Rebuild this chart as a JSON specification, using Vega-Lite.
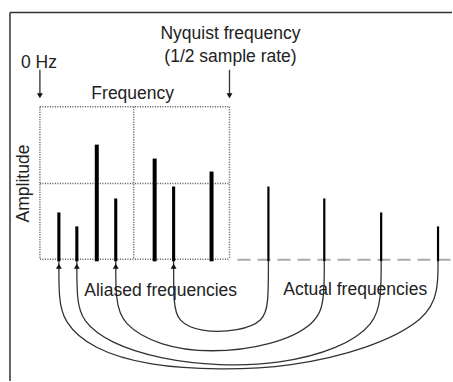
{
  "$schema": "https://vega.github.io/schema/vega-lite/v6.json",
  "width": 453,
  "height": 382,
  "padding": 0,
  "autosize": {"type": "fit", "contains": "padding"},
  "background": "white",
  "config": {"view": {"stroke": null}, "text": {"font": "Liberation Sans"}},
  "datasets": {
    "frame": [
      {"x": 10, "y": 12.5, "x2": 453, "y2": 12.5},
      {"x": 10, "y": 12.5, "x2": 10, "y2": 382}
    ],
    "grid": [
      {"x": 40, "y": 107, "x2": 230, "y2": 107},
      {"x": 40, "y": 260, "x2": 230, "y2": 260},
      {"x": 40, "y": 107, "x2": 40, "y2": 260},
      {"x": 230, "y": 107, "x2": 230, "y2": 260},
      {"x": 134, "y": 107, "x2": 134, "y2": 260},
      {"x": 40, "y": 184, "x2": 230, "y2": 184}
    ],
    "baseline": [{"x": 238, "x2": 453, "y": 260.5}],
    "bars": [
      {"f": 59, "top": 213, "kind": "alias"},
      {"f": 77, "top": 227, "kind": "alias"},
      {"f": 97, "top": 145, "kind": "inband"},
      {"f": 116, "top": 199, "kind": "alias"},
      {"f": 155, "top": 159, "kind": "inband"},
      {"f": 174, "top": 187, "kind": "alias"},
      {"f": 212, "top": 172, "kind": "inband"},
      {"f": 269, "top": 187, "kind": "actual"},
      {"f": 325, "top": 199, "kind": "actual"},
      {"f": 382, "top": 213, "kind": "actual"},
      {"f": 439, "top": 227, "kind": "actual"}
    ],
    "pointers": [
      {"x": 40, "y": 70, "y2": 96},
      {"x": 230, "y": 70, "y2": 96}
    ],
    "arcs": [
      {"arc": "A", "i": 0, "x": 174, "y": 262},
      {"arc": "A", "i": 1, "x": 174, "y": 262},
      {"arc": "A", "i": 2, "x": 174, "y": 305},
      {"arc": "A", "i": 3, "x": 178, "y": 322},
      {"arc": "A", "i": 4, "x": 200, "y": 333},
      {"arc": "A", "i": 5, "x": 240, "y": 332},
      {"arc": "A", "i": 6, "x": 264, "y": 322},
      {"arc": "A", "i": 7, "x": 269, "y": 305},
      {"arc": "A", "i": 8, "x": 269, "y": 262},
      {"arc": "A", "i": 9, "x": 269, "y": 262},
      {"arc": "B", "i": 0, "x": 116, "y": 262},
      {"arc": "B", "i": 1, "x": 116, "y": 262},
      {"arc": "B", "i": 2, "x": 116, "y": 300},
      {"arc": "B", "i": 3, "x": 122, "y": 325},
      {"arc": "B", "i": 4, "x": 160, "y": 347},
      {"arc": "B", "i": 5, "x": 210, "y": 354},
      {"arc": "B", "i": 6, "x": 272, "y": 347},
      {"arc": "B", "i": 7, "x": 318, "y": 325},
      {"arc": "B", "i": 8, "x": 325, "y": 300},
      {"arc": "B", "i": 9, "x": 325, "y": 262},
      {"arc": "B", "i": 10, "x": 325, "y": 262},
      {"arc": "C", "i": 0, "x": 77, "y": 262},
      {"arc": "C", "i": 1, "x": 77, "y": 262},
      {"arc": "C", "i": 2, "x": 77, "y": 300},
      {"arc": "C", "i": 3, "x": 82, "y": 322},
      {"arc": "C", "i": 4, "x": 110, "y": 344},
      {"arc": "C", "i": 5, "x": 160, "y": 360},
      {"arc": "C", "i": 6, "x": 220, "y": 367},
      {"arc": "C", "i": 7, "x": 280, "y": 365},
      {"arc": "C", "i": 8, "x": 340, "y": 350},
      {"arc": "C", "i": 9, "x": 376, "y": 325},
      {"arc": "C", "i": 10, "x": 382, "y": 298},
      {"arc": "C", "i": 11, "x": 382, "y": 262},
      {"arc": "C", "i": 12, "x": 382, "y": 262},
      {"arc": "D", "i": 0, "x": 59, "y": 262},
      {"arc": "D", "i": 1, "x": 59, "y": 262},
      {"arc": "D", "i": 2, "x": 59, "y": 298},
      {"arc": "D", "i": 3, "x": 63, "y": 322},
      {"arc": "D", "i": 4, "x": 92, "y": 350},
      {"arc": "D", "i": 5, "x": 150, "y": 367},
      {"arc": "D", "i": 6, "x": 220, "y": 371},
      {"arc": "D", "i": 7, "x": 290, "y": 368},
      {"arc": "D", "i": 8, "x": 370, "y": 350},
      {"arc": "D", "i": 9, "x": 428, "y": 320},
      {"arc": "D", "i": 10, "x": 439, "y": 292},
      {"arc": "D", "i": 11, "x": 439, "y": 262},
      {"arc": "D", "i": 12, "x": 439, "y": 262}
    ],
    "heads": [
      {"x": 59, "y": 267},
      {"x": 77, "y": 267},
      {"x": 116, "y": 267},
      {"x": 174, "y": 267}
    ],
    "labels": [
      {"t": "Nyquist frequency", "x": 231, "y": 34, "a": 0},
      {"t": "(1/2 sample rate)", "x": 231, "y": 57, "a": 0},
      {"t": "0 Hz", "x": 39, "y": 63, "a": 0},
      {"t": "Frequency", "x": 133, "y": 94, "a": 0},
      {"t": "Amplitude", "x": 24, "y": 184, "a": 270},
      {"t": "Aliased frequencies", "x": 161, "y": 292, "a": 0},
      {"t": "Actual frequencies", "x": 356, "y": 291, "a": 0}
    ]
  },
  "layer": [
    {
      "data": {"name": "frame"},
      "mark": {"type": "rule", "color": "#333", "strokeWidth": 1.5},
      "encoding": {
        "x": {"field": "x", "type": "quantitative", "scale": {"domain": [0, 453], "nice": false, "zero": false}, "axis": null},
        "y": {"field": "y", "type": "quantitative", "scale": {"domain": [0, 382], "reverse": true, "nice": false, "zero": false}, "axis": null},
        "x2": {"field": "x2"},
        "y2": {"field": "y2"}
      }
    },
    {
      "data": {"name": "grid"},
      "mark": {"type": "rule", "color": "#555", "strokeWidth": 1.5, "strokeDash": [1, 1.5]},
      "encoding": {
        "x": {"field": "x", "type": "quantitative"},
        "y": {"field": "y", "type": "quantitative"},
        "x2": {"field": "x2"},
        "y2": {"field": "y2"}
      }
    },
    {
      "data": {"name": "baseline"},
      "mark": {"type": "rule", "color": "#aaa", "strokeWidth": 2, "strokeDash": [13, 7]},
      "encoding": {
        "x": {"field": "x", "type": "quantitative"},
        "x2": {"field": "x2"},
        "y": {"field": "y", "type": "quantitative"}
      }
    },
    {
      "data": {"name": "arcs"},
      "mark": {"type": "line", "interpolate": "basis", "color": "#333", "strokeWidth": 1.3},
      "encoding": {
        "x": {"field": "x", "type": "quantitative"},
        "y": {"field": "y", "type": "quantitative"},
        "detail": {"field": "arc"},
        "order": {"field": "i"}
      }
    },
    {
      "data": {"name": "bars"},
      "mark": {"type": "rule", "color": "#000"},
      "encoding": {
        "x": {"field": "f", "type": "quantitative"},
        "y": {"field": "top", "type": "quantitative"},
        "y2": {"datum": 262},
        "strokeWidth": {"field": "kind", "type": "nominal", "scale": {"domain": ["inband", "alias", "actual"], "range": [4, 2.2, 2.2]}, "legend": null}
      }
    },
    {
      "data": {"name": "pointers"},
      "mark": {"type": "rule", "color": "#333", "strokeWidth": 1.3},
      "encoding": {
        "x": {"field": "x", "type": "quantitative"},
        "y": {"field": "y", "type": "quantitative"},
        "y2": {"field": "y2"}
      }
    },
    {
      "data": {"name": "pointers"},
      "mark": {"type": "point", "shape": "triangle-down", "filled": true, "color": "#111", "size": 35, "opacity": 1},
      "encoding": {
        "x": {"field": "x", "type": "quantitative"},
        "y": {"field": "y2", "type": "quantitative"}
      }
    },
    {
      "data": {"name": "heads"},
      "mark": {"type": "point", "shape": "triangle-up", "filled": true, "color": "#111", "size": 35, "opacity": 1},
      "encoding": {
        "x": {"field": "x", "type": "quantitative"},
        "y": {"field": "y", "type": "quantitative"}
      }
    },
    {
      "data": {"name": "labels"},
      "mark": {"type": "text", "fontSize": 17.5, "color": "#222", "align": "center", "baseline": "middle"},
      "encoding": {
        "x": {"field": "x", "type": "quantitative"},
        "y": {"field": "y", "type": "quantitative"},
        "text": {"field": "t"},
        "angle": {"field": "a", "type": "quantitative", "scale": null}
      }
    }
  ]
}
